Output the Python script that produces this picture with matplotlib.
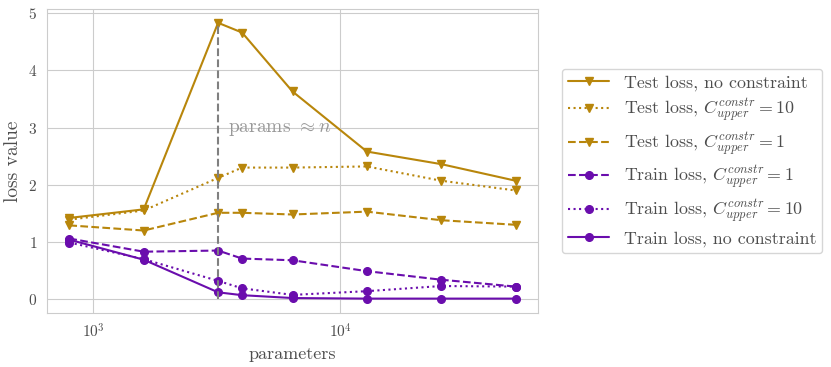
import numpy as np
import matplotlib.pyplot as plt
import seaborn as sns

sns.set_style("whitegrid")
plt.rcParams['font.family'] = 'serif'
plt.rcParams['font.serif'] = ['cmr10', 'DejaVu Serif']
plt.rcParams['mathtext.fontset'] = 'cm'
plt.rcParams['axes.formatter.use_mathtext'] = True
plt.rcParams['text.color'] = '.3'
plt.rcParams['axes.labelcolor'] = '.3'
plt.rcParams['xtick.color'] = '.3'
plt.rcParams['ytick.color'] = '.3'

# data
params = [800, 1600, 3200, 4000, 6400, 12800, 25600, 51200]
test_noc = [1.42, 1.57, 4.83, 4.66, 3.63, 2.58, 2.36, 2.07]
test_c10 = [1.39, 1.55, 2.12, 2.30, 2.30, 2.32, 2.07, 1.90]
test_c1 = [1.29, 1.20, 1.51, 1.51, 1.48, 1.53, 1.38, 1.30]
train_c1 = [1.06, 0.83, 0.85, 0.71, 0.68, 0.49, 0.34, 0.22]
train_c10 = [0.99, 0.70, 0.32, 0.19, 0.075, 0.14, 0.23, 0.22]
train_noc = [1.04, 0.69, 0.12, 0.07, 0.02, 0.01, 0.01, 0.01]
n_samples = 3200

gold = '#b8860b'
purple = '#6a0dad'

fig = plt.figure(figsize=(8.31, 3.67), dpi=100)
ax = fig.add_axes([47/831, 1 - 313/367, (538-47)/831, (313-9)/367])

ax.plot(params, test_noc, '-v', color=gold, ms=6, lw=1.5, label='Test loss, no constraint')
ax.plot(params, test_c10, ':v', color=gold, ms=6, lw=1.5, label=r'Test loss, $C^{constr}_{upper} = 10$')
ax.plot(params, test_c1, '--v', color=gold, ms=6, lw=1.5, label=r'Test loss, $C^{constr}_{upper} = 1$')
ax.plot(params, train_c1, '--o', color=purple, ms=5.5, lw=1.5, label=r'Train loss, $C^{constr}_{upper} = 1$')
ax.plot(params, train_c10, ':o', color=purple, ms=5.5, lw=1.5, label=r'Train loss, $C^{constr}_{upper} = 10$')
ax.plot(params, train_noc, '-o', color=purple, ms=5.5, lw=1.5, label='Train loss, no constraint')

ax.vlines(n_samples, 0, max(test_noc), colors='grey', linestyles='--', lw=1.5)
ax.text(3500, 2.98, r'params $\approx n$', color='0.6', fontsize=14, va='center', ha='left')

ax.set_xscale('log')
ax.set_xlabel('parameters', fontsize=13)
ax.set_ylabel('loss value', fontsize=14)
ax.tick_params(labelsize=11)
ax.minorticks_off()
for s in ax.spines.values():
    s.set_color('.8')

ax.legend(loc='center left', bbox_to_anchor=(1.03, 0.5), fontsize=12.9,
          handlelength=2.3, labelspacing=0.35, handletextpad=0.8,
          borderpad=0.35, frameon=True)

fig.savefig('out.png', dpi=100)
